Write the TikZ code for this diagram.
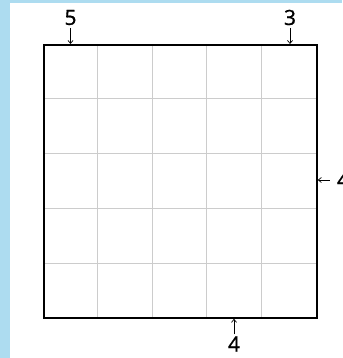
\documentclass[tikz,border=0pt]{standalone}
\usepackage{fontspec}
\setmainfont{Noto Sans}[FakeBold=0.6]
\usetikzlibrary{arrows.meta,positioning}
\definecolor{paneblue}{RGB}{173,220,240}

\begin{document}
\begin{tikzpicture}[x=1pt, y=-1pt,
    gridline/.style={draw=black!20, line width=0.8pt},
    frame/.style={draw, line width=1.8pt, minimum size=273pt, inner sep=0pt, anchor=north west},
    num/.style={font=\fontsize{21}{24}\selectfont\bfseries, inner sep=0pt},
    arr/.style={-{Straight Barb[length=3pt,width=5pt]}, line width=0.7pt}]

    \useasboundingbox (0,0) rectangle (342,358);
    \fill[paneblue] (0,0) rectangle (342,358);
    \fill[white] (10,3) rectangle (342,358);

    % board
    \node[frame] (board) at (43,44) {};
    \foreach \i in {1,...,4} {
        \draw[gridline] (43+54.6*\i,44) -- (43+54.6*\i,318);
        \draw[gridline] (43,44+54.8*\i) -- (316,44+54.8*\i);
    }
    \node[frame] at (43,44) {};

    % clues
    \node[num] (top5) at (70.5,17.5) {5};
    \node[num] (top3) at (290,17.5) {3};
    \node[num] (right4) at (343,180) {4};
    \node[num] (bottom4) at (234,344) {4};

    \coordinate (top5end) at (top5 |- board.north);
    \coordinate (top3end) at (top3 |- board.north);
    \coordinate (right4end) at (board.east |- right4);
    \coordinate (bottom4end) at (bottom4 |- board.south);

    \draw[arr, shorten <=3pt] (top5) -- (top5end);
    \draw[arr, shorten <=3pt] (top3) -- (top3end);
    \draw[arr, shorten <=7pt] (right4) -- (right4end);
    \draw[arr, shorten <=2pt] (bottom4) -- (bottom4end);
\end{tikzpicture}
\end{document}
